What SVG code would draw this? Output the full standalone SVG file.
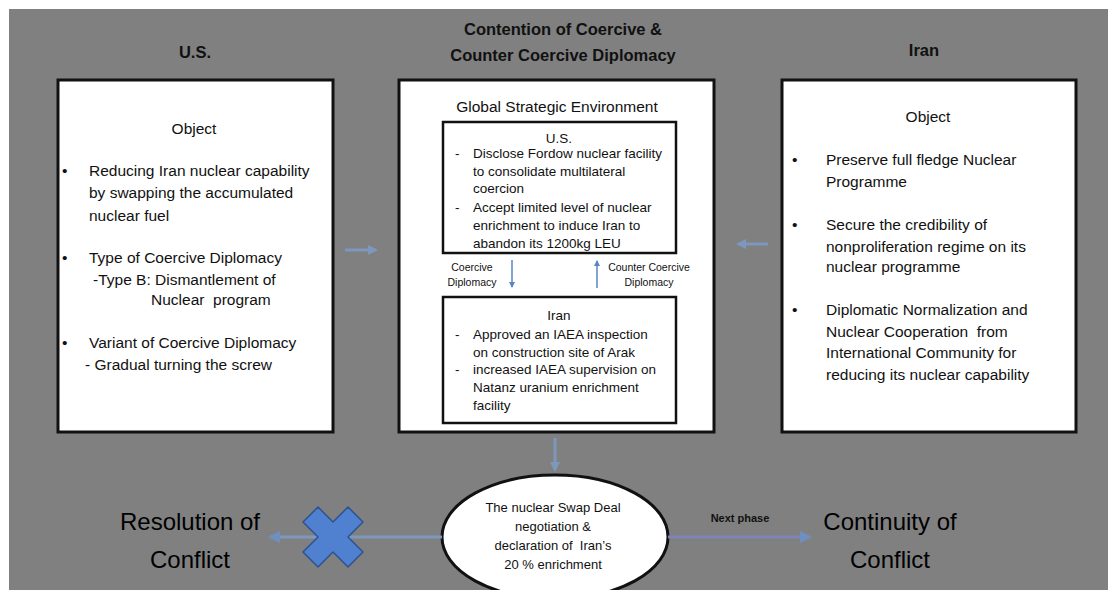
<svg xmlns="http://www.w3.org/2000/svg" width="1108" height="590" viewBox="0 0 1108 590">
<style>
text{font-family:"Liberation Sans",Arial,sans-serif;fill:#111}
.title{font-size:16.5px;font-weight:bold;text-anchor:middle}
.box{fill:#fff;stroke:#111;stroke-width:3}
.inner{fill:#fff;stroke:#111;stroke-width:2.5}
.big{font-size:15.5px}
.mid{font-size:13.5px}
.sm{font-size:10.5px;text-anchor:middle}
.c{text-anchor:middle}
.huge{font-size:24px;text-anchor:middle;fill:#000}
.fa{stroke:#7d97bd;stroke-width:3;fill:none}
</style>
<defs>
<marker id="ah" markerWidth="6" markerHeight="6" refX="5" refY="3" orient="auto" markerUnits="userSpaceOnUse"><path d="M0,0 L6,3 L0,6 z" fill="#5a84c4"/></marker>
<marker id="ahf" markerWidth="10" markerHeight="10" refX="8" refY="5" orient="auto" markerUnits="userSpaceOnUse"><path d="M0,0 L10,5 L0,10 z" fill="#7d97bd"/></marker>
<marker id="ahp" markerWidth="12" markerHeight="12" refX="10" refY="6" orient="auto" markerUnits="userSpaceOnUse"><path d="M0,0 L12,6 L0,12 z" fill="#6f8fc0"/></marker>
</defs>
<rect x="0" y="0" width="1108" height="590" fill="#fff"/>
<rect x="9" y="9" width="1099" height="581" fill="#808080"/>

<g id="titles">
<text class="title" x="195" y="58">U.S.</text>
<text class="title" x="563" y="35">Contention of Coercive &amp;</text>
<text class="title" x="563" y="61">Counter Coercive Diplomacy</text>
<text class="title" x="924" y="56">Iran</text>
</g>

<g id="us-box">
<rect class="box" x="58" y="80" width="275" height="352"/>
<text class="big c" x="194" y="134">Object</text>
<text class="big" x="62" y="176">•</text>
<text class="big" x="89" y="176">Reducing Iran nuclear capability</text>
<text class="big" x="89" y="198">by swapping the accumulated</text>
<text class="big" x="89" y="221">nuclear fuel</text>
<text class="big" x="62" y="263">•</text>
<text class="big" x="89" y="263">Type of Coercive Diplomacy</text>
<text class="big" x="93" y="285">-Type B: Dismantlement of</text>
<text class="big" x="151" y="305" xml:space="preserve">Nuclear  program</text>
<text class="big" x="62" y="348">•</text>
<text class="big" x="89" y="348">Variant of Coercive Diplomacy</text>
<text class="big" x="85" y="370">- Gradual turning the screw</text>
</g>

<g id="center-box">
<rect class="box" x="399" y="80" width="315" height="352"/>
<text class="big c" x="557" y="112">Global Strategic Environment</text>
</g>

<g id="inner-us">
<rect class="inner" x="443" y="122" width="233" height="131"/>
<text class="mid c" x="559" y="143">U.S.</text>
<text class="mid" x="455" y="158">-</text>
<text class="mid" x="473" y="158">Disclose Fordow nuclear facility</text>
<text class="mid" x="473" y="176">to consolidate multilateral</text>
<text class="mid" x="473" y="193">coercion</text>
<text class="mid" x="455" y="212">-</text>
<text class="mid" x="473" y="212">Accept limited level of nuclear</text>
<text class="mid" x="473" y="230">enrichment to induce Iran to</text>
<text class="mid" x="473" y="248">abandon its 1200kg LEU</text>
</g>

<g id="inner-iran">
<rect class="inner" x="443" y="297" width="233" height="126"/>
<text class="mid c" x="559" y="320">Iran</text>
<text class="mid" x="455" y="339">-</text>
<text class="mid" x="473" y="339">Approved an IAEA inspection</text>
<text class="mid" x="473" y="357">on construction site of Arak</text>
<text class="mid" x="455" y="374">-</text>
<text class="mid" x="473" y="374">increased IAEA supervision on</text>
<text class="mid" x="473" y="392">Natanz uranium enrichment</text>
<text class="mid" x="473" y="410">facility</text>
</g>

<g id="labels">
<text class="sm" x="472" y="271">Coercive</text>
<text class="sm" x="472" y="286">Diplomacy</text>
<text class="sm" x="649" y="271">Counter Coercive</text>
<text class="sm" x="649" y="286">Diplomacy</text>
</g>

<g id="iran-box">
<rect class="box" x="782" y="80" width="294" height="352"/>
<text class="big c" x="928" y="122">Object</text>
<text class="big" x="792" y="165">•</text>
<text class="big" x="826" y="165">Preserve full fledge Nuclear</text>
<text class="big" x="826" y="187">Programme</text>
<text class="big" x="792" y="230">•</text>
<text class="big" x="826" y="230">Secure the credibility of</text>
<text class="big" x="826" y="252">nonproliferation regime on its</text>
<text class="big" x="826" y="272">nuclear programme</text>
<text class="big" x="792" y="315">•</text>
<text class="big" x="826" y="315">Diplomatic Normalization and</text>
<text class="big" x="826" y="337" xml:space="preserve">Nuclear Cooperation  from</text>
<text class="big" x="826" y="358">International Community for</text>
<text class="big" x="826" y="380">reducing its nuclear capability</text>
</g>

<g id="swap-deal">
<ellipse cx="555" cy="537" rx="113" ry="62" fill="#fff" stroke="#111" stroke-width="3"/>
<text class="c" font-size="13" x="553" y="512">The nuclear Swap Deal</text>
<text class="c" font-size="13" x="553" y="531">negotiation &amp;</text>
<text class="c" font-size="13" x="553" y="550" xml:space="preserve">declaration of  Iran’s</text>
<text class="c" font-size="13" x="553" y="569">20 % enrichment</text>
</g>

<g id="resolution">
<text class="huge" x="190" y="530">Resolution of</text>
<text class="huge" x="190" y="568">Conflict</text>
</g>

<g id="continuity">
<text class="huge" x="890" y="530">Continuity of</text>
<text class="huge" x="890" y="568">Conflict</text>
</g>

<g id="connectors">
<line x1="512" y1="260" x2="512" y2="287" stroke="#5a84c4" stroke-width="1.5" marker-end="url(#ah)"/>
<line x1="597" y1="288" x2="597" y2="261" stroke="#5a84c4" stroke-width="1.5" marker-end="url(#ah)"/>
<line class="fa" x1="345" y1="250" x2="376" y2="250" marker-end="url(#ahf)"/>
<line class="fa" x1="768" y1="244" x2="738" y2="244" marker-end="url(#ahf)"/>
<line class="fa" x1="555" y1="438" x2="555" y2="470" stroke-width="5" marker-end="url(#ahf)"/>
<line x1="442" y1="537" x2="270" y2="537" stroke="#7d97bd" stroke-width="3" marker-end="url(#ahp)"/>
<line x1="668" y1="537" x2="810" y2="537" stroke="#7f84b8" stroke-width="3" marker-end="url(#ahp)"/>
<text font-size="11" font-weight="bold" class="c" x="740" y="522">Next phase</text>
</g>

<g id="cross">
<path d="M318,507 L333,522 L348,507 L363,522 L348,537 L363,552 L348,567 L333,552 L318,567 L303,552 L318,537 L303,522 Z" fill="#4f81d0" stroke="#2f528f" stroke-width="1.5" stroke-linejoin="round"/>
</g>
</svg>
